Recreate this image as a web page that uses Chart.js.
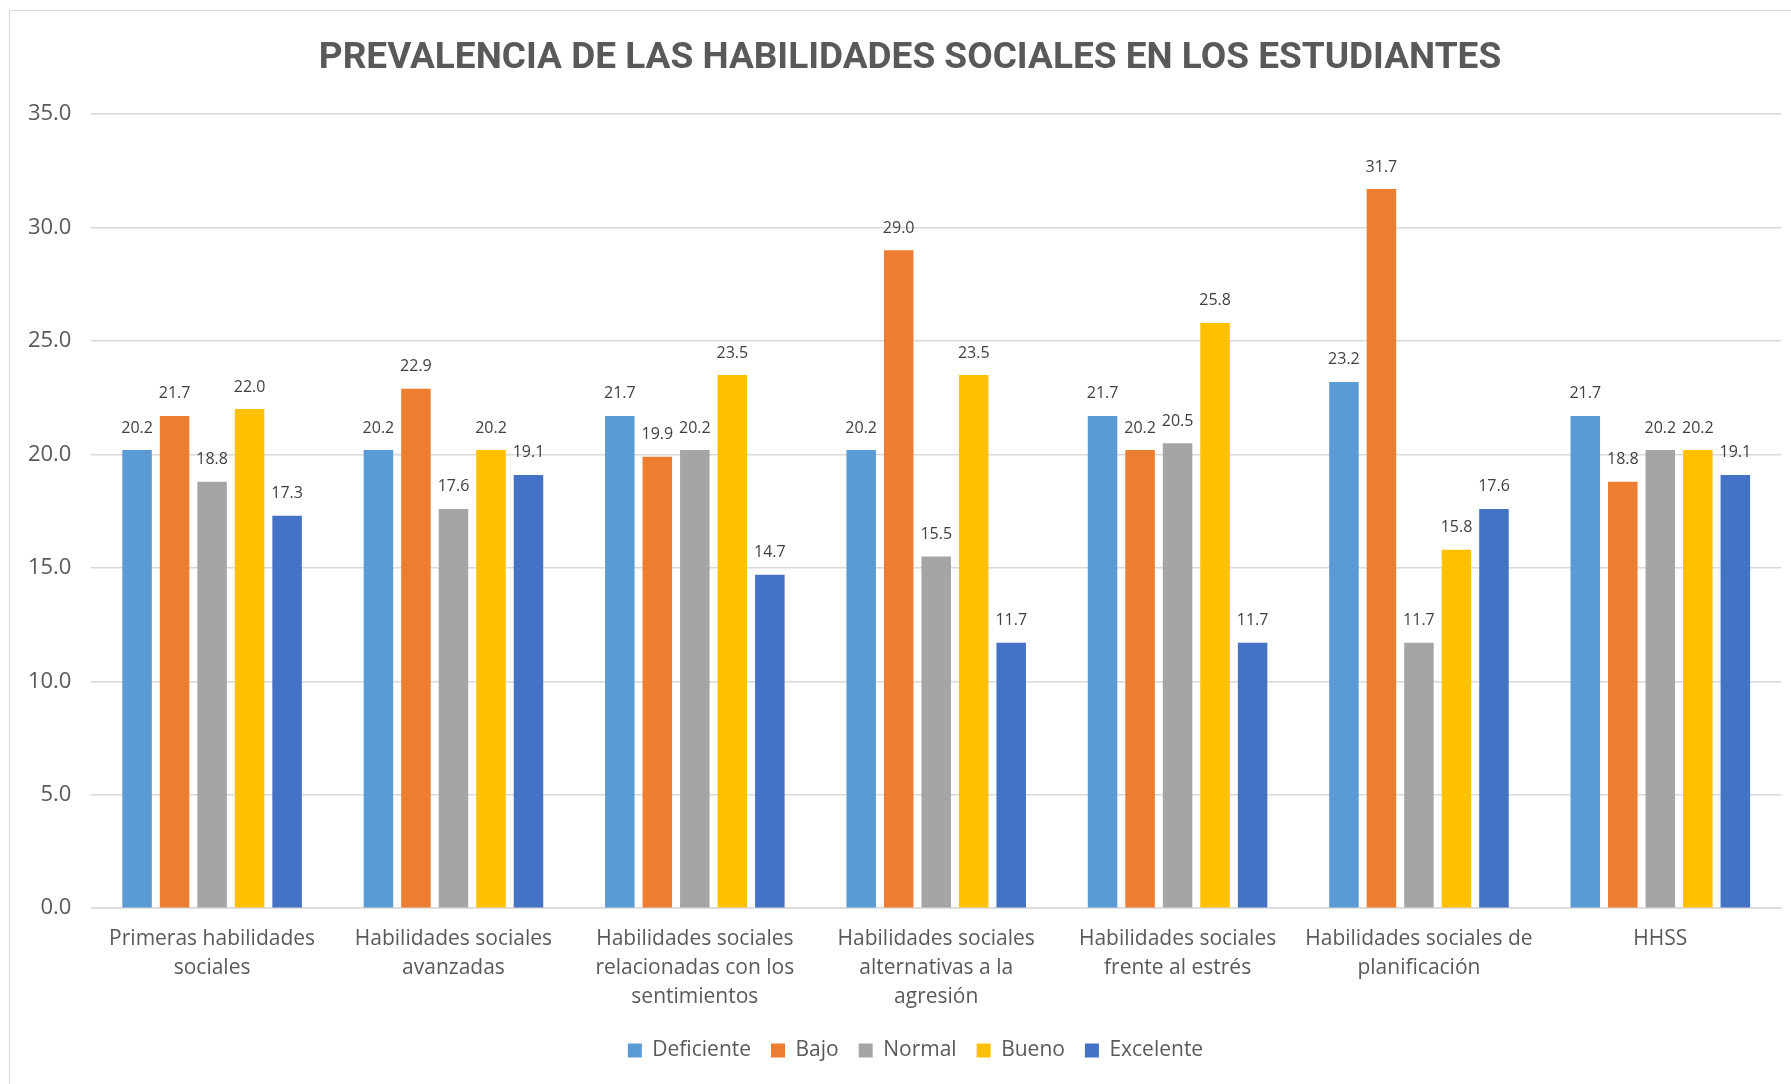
<!DOCTYPE html>
<html>
<head>
<meta charset="utf-8">
<script src="https://cdn.jsdelivr.net/npm/chart.js@4/dist/chart.umd.min.js"></script>
<style>
  html, body { margin: 0; padding: 0; background: #fff; overflow: hidden; }
  #cadre {
    position: absolute; left: 9px; top: 10px;
    width: 1800px; height: 1090px;
    border: 1px solid #d9d9d9;
  }
</style>
</head>
<body>
<div id="cadre">
  <canvas id="canva1" width="1800" height="1090"></canvas>
</div>
<script>
// catégories (axe X)
const categories = [
    ['Primeras habilidades', 'sociales'],
    ['Habilidades sociales', 'avanzadas'],
    ['Habilidades sociales', 'relacionadas con los', 'sentimientos'],
    ['Habilidades sociales', 'alternativas a la', 'agresión'],
    ['Habilidades sociales', 'frente al estrés'],
    ['Habilidades sociales de', 'planificación'],
    'HHSS'
];

// valeurs de chaque série
const deficiente = [20.2, 20.2, 21.7, 20.2, 21.7, 23.2, 21.7];
const bajo       = [21.7, 22.9, 19.9, 29.0, 20.2, 31.7, 18.8];
const normal     = [18.8, 17.6, 20.2, 15.5, 20.5, 11.7, 20.2];
const bueno      = [22.0, 20.2, 23.5, 23.5, 25.8, 15.8, 20.2];
const excelente  = [17.3, 19.1, 14.7, 11.7, 11.7, 17.6, 19.1];

const series = ['Deficiente', 'Bajo', 'Normal', 'Bueno', 'Excelente'];
const couleurs = ['#5B9BD5', '#ED7D31', '#A5A5A5', '#FFC000', '#4472C4'];

const gris = '#595959';

// petit plugin pour écrire la valeur au dessus de chaque barre
const etiquettes = {
    id: 'etiquettes',
    afterDatasetsDraw(chart) {
        const ctx = chart.ctx;
        ctx.save();
        ctx.font = '16px "Open Sans"';
        ctx.fillStyle = '#404040';
        ctx.textAlign = 'center';
        ctx.textBaseline = 'middle';
        chart.data.datasets.forEach((ds, i) => {
            chart.getDatasetMeta(i).data.forEach((barre, j) => {
                ctx.fillText(ds.data[j].toFixed(1), barre.x, barre.y - 22);
            });
        });
        ctx.restore();
    }
};

// décale la légende et le titre vers la droite (centrés sur tout le cadre comme dans Excel)
const decalage = {
    id: 'decalage',
    afterLayout(chart) {
        chart.legend.left += 20;
        chart.legend.right += 20;
        chart.titleBlock.left += 14.5;
        chart.titleBlock.right += 14.5;
    }
};

const valeurs = [deficiente, bajo, normal, bueno, excelente];
const datas = series.map((nom, i) => {
    return {
        label: nom,
        data: valeurs[i],
        backgroundColor: couleurs[i],
        borderWidth: 0,
        categoryPercentage: 0.777,
        barPercentage: 0.787
    };
});

const ctx = document.querySelector('#canva1');

new Chart(ctx, {
    type: 'bar',
    data: {
        labels: categories,
        datasets: datas
    },
    plugins: [etiquettes, decalage],
    options: {
        responsive: false,
        animation: false,
        layout: { padding: { left: 0, right: 29, top: 0, bottom: 30 } },
        scales: {
            x: {
                grid: { display: false, drawTicks: false },
                border: { color: '#d9d9d9', width: 1.5 },
                ticks: {
                    color: gris,
                    padding: 17,
                    maxRotation: 0,
                    autoSkip: false,
                    font: { family: 'Open Sans', size: 21, lineHeight: 1.36 }
                },
                afterFit(scale) { scale.height = 111.8; }
            },
            y: {
                min: 0,
                max: 35,
                grid: { color: '#d9d9d9', lineWidth: 1.5, drawTicks: false },
                border: { display: false },
                ticks: {
                    stepSize: 5,
                    color: gris,
                    padding: 20,
                    font: { family: 'Open Sans', size: 22 },
                    callback: v => v.toFixed(1)
                },
                afterFit(scale) { scale.width = 81.4; }
            }
        },
        plugins: {
            title: {
                display: true,
                text: 'PREVALENCIA DE LAS HABILIDADES SOCIALES EN LOS ESTUDIANTES',
                color: gris,
                font: { family: 'Roboto', size: 37, weight: 'bold', lineHeight: 1.2 },
                padding: { top: 25.3, bottom: 33.5 }
            },
            legend: {
                position: 'bottom',
                labels: {
                    color: gris,
                    boxWidth: 14,
                    boxHeight: 14,
                    padding: 20,
                    font: { family: 'Open Sans', size: 21 }
                }
            },
            tooltip: { enabled: false }
        }
    }
});
</script>
</body>
</html>
